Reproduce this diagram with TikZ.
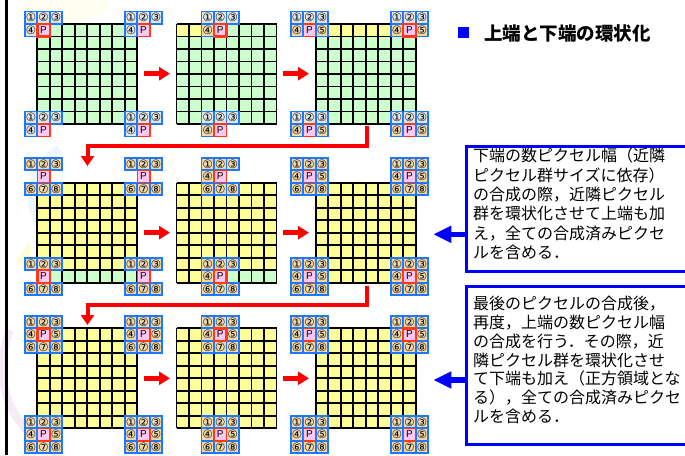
\documentclass[tikz,border=0pt]{standalone}
\usepackage{fontspec}
\newfontfamily\cjk{Noto Sans CJK JP}
\newfontfamily\lsans{Liberation Sans}
\newfontfamily\dsans{DejaVu Sans}
\usetikzlibrary{arrows.meta}
\definecolor{cgreen}{HTML}{CCFFCC}
\definecolor{cyel}{HTML}{FFFF99}
\definecolor{kblue}{HTML}{1E78FF}
\definecolor{kl}{HTML}{E2E6E6}
\definecolor{kt}{HTML}{F0D8A8}
\definecolor{pfill}{HTML}{FFC8F4}
\definecolor{pred}{HTML}{FF3A1A}
\definecolor{arred}{HTML}{FF0000}
\definecolor{bblue}{HTML}{0000FF}
\tikzset{
 kbox/.style={draw=kblue, line width=1.7pt},
 kdig/.style={inner sep=0pt, font=\dsans\fontsize{11.5}{11.5}\selectfont},
 pcell/.style={draw=pred, fill=pfill, minimum size=12.5pt, inner sep=0pt, font=\lsans\fontsize{10}{10}\selectfont},
 gl/.style={line width=1.8pt, black},
 rarrow/.style={arred, line width=4.5pt, -{Triangle[length=11pt,width=13pt]}},
 larrow/.style={arred, line width=4pt, -{Triangle[length=10pt,width=13pt]}},
 barrow/.style={bblue, line width=5.5pt, -{Triangle[length=18pt,width=16pt]}},
 tbox/.style={draw=bblue, line width=2.5pt, fill=white, anchor=north west, inner sep=0pt},
 ttext/.style={anchor=north west, align=left, inner sep=0pt},
}
\newcounter{kn}
\newcommand\kc[4]{\stepcounter{kn}\draw[kbox,fill=#3] ({#1},{#2}) rectangle ({#1+1},{#2+1});
 \node[kdig] (k\arabic{kn}) at ({#1+0.5},{#2+0.5}) {#4};}
\newcommand\kp[3]{\stepcounter{kn}\node[pcell,line width=#3] (k\arabic{kn}) at ({#1+0.5},{#2+0.5}) {P};}
\newcommand\kb[7]{%
 \kc{#1-1}{#2-1}{#3}{①}\kc{#1}{#2-1}{#3}{②}\kc{#1+1}{#2-1}{#3}{③}%
 \ifx x#4\else\kc{#1-1}{#2}{#4}{④}\fi
 \ifx x#5\else\kc{#1+1}{#2}{#5}{⑤}\fi
 \ifx x#6\else\kc{#1-1}{#2+1}{#6}{⑥}\kc{#1}{#2+1}{#6}{⑦}\kc{#1+1}{#2+1}{#6}{⑧}\fi
 \kp{#1}{#2}{#7}}
\newcommand\gridlines{\foreach \gi in {0,1,2,3,4,5,6,7,8}{\draw[gl] (\gi,0) -- (\gi,8); \draw[gl] (0,\gi) -- (8,\gi);}}
\begin{document}
\begin{tikzpicture}[x=1pt,y=-1pt]
\useasboundingbox (0,0) rectangle (685,455);
\fill[white] (0,0) rectangle (685,455);
\clip (0,0) rectangle (685,455);
% faint background decoration
\fill[green!8!yellow!6] (20,0) .. controls (40,30) and (100,30) .. (110,0) -- cycle;
\draw[cyan!8, line width=10pt] (60,150) .. controls (20,170) and (20,240) .. (90,265);
\fill[yellow!15] (15,262) -- (30,240) -- (32,265) -- cycle;
\draw[violet!8, line width=8pt] (10,330) .. controls (-10,380) and (10,430) .. (60,455);
\fill[black] (5,0) rectangle (8,455);
% Panel 1
\begin{scope}[shift={(37.3,24)},x=12.5pt,y=-12.5pt]
\fill[cgreen] (0,0) rectangle (8,8);
\gridlines
\kb{0}{0}{kl}{kl}{x}{x}{2.4pt}
\kb{8}{0}{kl}{kl}{x}{x}{1.4pt}
\kb{0}{8}{kl}{kl}{x}{x}{1.4pt}
\kb{8}{8}{kl}{kl}{x}{x}{1.4pt}
\end{scope}
% Panel 2
\begin{scope}[shift={(176.5,24)},x=12.5pt,y=-12.5pt]
\fill[cgreen] (0,0) rectangle (8,8);
\fill[cyel] (0,0) rectangle (2,1);
\gridlines
\kb{3}{0}{kl}{kt}{x}{x}{2.4pt}
\kb{3}{8}{kl}{kt}{x}{x}{1.4pt}
\end{scope}
% Panel 3
\begin{scope}[shift={(315.7,24)},x=12.5pt,y=-12.5pt]
\fill[cgreen] (0,0) rectangle (8,8);
\fill[cyel] (0,0) rectangle (7,1);
\gridlines
\kb{-1}{0}{kl}{kt}{kt}{x}{1.4pt}
\kb{7}{0}{kl}{kt}{kt}{x}{2.4pt}
\kb{-1}{8}{kl}{kt}{kt}{x}{1.4pt}
\kb{7}{8}{kl}{kt}{kt}{x}{1.4pt}
\end{scope}
% Panel 4
\begin{scope}[shift={(37.3,182.7)},x=12.5pt,y=-12.5pt]
\fill[cyel] (0,0) rectangle (8,8);
\fill[cgreen] (0,7) rectangle (8,8);
\gridlines
\kb{0}{-1}{kt}{x}{x}{kt}{1.4pt}
\kb{8}{-1}{kt}{x}{x}{kt}{1.4pt}
\kb{0}{7}{kt}{x}{x}{kt}{2.4pt}
\kb{8}{7}{kt}{x}{x}{kt}{1.4pt}
\end{scope}
% Panel 5
\begin{scope}[shift={(176.5,182.7)},x=12.5pt,y=-12.5pt]
\fill[cyel] (0,0) rectangle (8,8);
\fill[cgreen] (4,7) rectangle (8,8);
\gridlines
\kb{3}{-1}{kt}{kt}{x}{kt}{1.4pt}
\kb{3}{7}{kt}{kt}{x}{kt}{2.4pt}
\end{scope}
% Panel 6
\begin{scope}[shift={(315.7,182.7)},x=12.5pt,y=-12.5pt]
\fill[cyel] (0,0) rectangle (8,8);
\gridlines
\kb{-1}{-1}{kt}{kt}{kt}{kt}{1.4pt}
\kb{7}{-1}{kt}{kt}{kt}{kt}{1.4pt}
\kb{-1}{7}{kt}{kt}{kt}{kt}{1.4pt}
\kb{7}{7}{kt}{kt}{kt}{kt}{2.4pt}
\end{scope}
% Panel 7
\begin{scope}[shift={(37.3,328.3)},x=12.5pt,y=-12.5pt]
\fill[cyel] (0,0) rectangle (8,8);
\gridlines
\kb{0}{0}{kt}{kt}{kt}{kt}{2.4pt}
\kb{8}{0}{kt}{kt}{kt}{kt}{1.4pt}
\kb{0}{8}{kt}{kt}{kt}{kt}{1.4pt}
\kb{8}{8}{kt}{kt}{kt}{kt}{1.4pt}
\end{scope}
% Panel 8
\begin{scope}[shift={(176.5,328.3)},x=12.5pt,y=-12.5pt]
\fill[cyel] (0,0) rectangle (8,8);
\gridlines
\kb{3}{0}{kt}{kt}{kt}{kt}{2.4pt}
\kb{3}{8}{kt}{kt}{kt}{kt}{1.4pt}
\end{scope}
% Panel 9
\begin{scope}[shift={(315.7,328.3)},x=12.5pt,y=-12.5pt]
\fill[cyel] (0,0) rectangle (8,8);
\gridlines
\kb{-1}{0}{kt}{kt}{kt}{kt}{1.4pt}
\kb{7}{0}{kt}{kt}{kt}{kt}{2.4pt}
\kb{-1}{8}{kt}{kt}{kt}{kt}{1.4pt}
\kb{7}{8}{kt}{kt}{kt}{kt}{1.4pt}
\end{scope}
% horizontal red arrows
\foreach \y [count=\r] in {73.7,232.7,378.3}{
 \coordinate (h\r a) at (144,\y); \coordinate (h\r b) at (170,\y);
 \coordinate (h\r c) at (283,\y); \coordinate (h\r d) at (309,\y);
 \draw[rarrow] (h\r a) -- (h\r b);
 \draw[rarrow] (h\r c) -- (h\r d);
}
% L-shaped red arrows
\coordinate (l1a) at (367.3,126); \coordinate (l1c) at (367.3,146); \coordinate (l1b) at (87.5,166);
\draw[larrow] (l1a) -- (l1c) -| (l1b);
\coordinate (l2a) at (367.3,286); \coordinate (l2c) at (367.3,305); \coordinate (l2b) at (87.5,325);
\draw[larrow] (l2a) -- (l2c) -| (l2b);
% title
\fill[bblue] (458,27.3) rectangle (469.3,38.3);
\node[anchor=west, font=\cjk\bfseries\fontsize{18.5}{18.5}\selectfont, inner sep=0pt] (title) at (484,33.5) {上端と下端の環状化};
% boxes
\node[tbox, minimum width=230pt, minimum height=125pt] (b1) at (465,145) {};
\node[ttext, font=\cjk\fontsize{16}{19.3}\selectfont] (t1) at (473,148) {下端の数ピクセル幅（近隣\\ピクセル群サイズに依存）\\の合成の際，近隣ピクセル\\群を環状化させて上端も加\\え，全ての合成済みピクセ\\ルを含める．};
\node[tbox, minimum width=230pt, minimum height=158.3pt] (b2) at (465,285) {};
\node[ttext, font=\cjk\fontsize{16}{18.8}\selectfont] (t2) at (473,296) {最後のピクセルの合成後，\\再度，上端の数ピクセル幅\\の合成を行う．その際，近\\隣ピクセル群を環状化させ\\て下端も加え（正方領域とな\\る），全ての合成済みピクセ\\ルを含める．};
\coordinate (ba1) at (433.3,234.3);
\draw[barrow] (ba1 -| b1.west) -- (ba1);
\coordinate (ba2) at (433.3,380);
\draw[barrow] (ba2 -| b2.west) -- (ba2);
\end{tikzpicture}
\end{document}
